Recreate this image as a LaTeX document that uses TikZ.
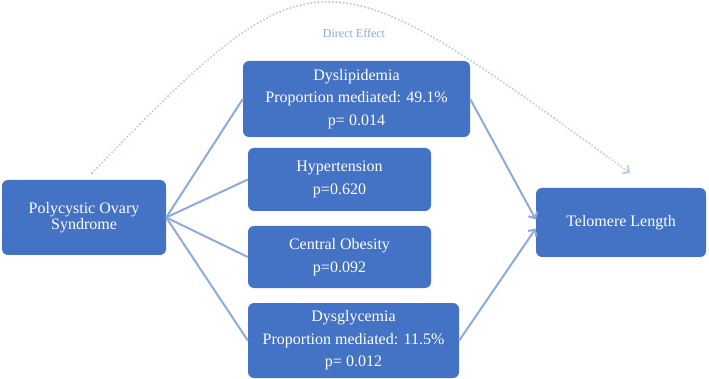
\documentclass[tikz,border=0pt]{standalone}
\usepackage{fontspec}
\setmainfont{Liberation Serif}
\usetikzlibrary{arrows.meta}
\definecolor{boxblue}{HTML}{4472C4}
\definecolor{linkblue}{HTML}{8FAADC}
\definecolor{directtext}{HTML}{8EA5D8}
\definecolor{dotblue}{HTML}{BCCDEB}
\tikzset{
  box/.style={fill=boxblue, rounded corners=6pt, text=white, align=center,
    inner sep=0pt, font=\fontsize{16}{22.5}\selectfont},
  link/.style={draw=linkblue, line width=2pt},
  linkarrow/.style={link, -{Straight Barb[length=5pt,width=10pt,line width=2pt]}},
  directarc/.style={draw=dotblue, line width=2.4pt, line cap=round,
    dash pattern=on 0.01pt off 3.6pt,
    -{Straight Barb[length=5pt,width=10pt,line width=1.8pt]}},
}
\begin{document}
\begin{tikzpicture}[x=1pt, y=-1pt]
\path[use as bounding box] (0,0) rectangle (709,379);

\node[box, minimum width=164pt, minimum height=75pt, font=\fontsize{16}{16}\selectfont] (pcos) at (84,217.5) {Polycystic Ovary\\Syndrome};
\node[box, minimum width=227pt, minimum height=76pt] (dysl) at (356.5,99) {Dyslipidemia\\Proportion mediated: 49.1\%\\p= 0.014};
\node[box, minimum width=183pt, minimum height=63pt] (hyper) at (339.5,179.5) {Hypertension\\p=0.620};
\node[box, minimum width=183pt, minimum height=62pt] (cent) at (339.5,257) {Central Obesity\\p=0.092};
\node[box, minimum width=211pt, minimum height=75pt] (dysg) at (353.5,340.5) {Dysglycemia\\Proportion mediated: 11.5\%\\p= 0.012};
\node[box, minimum width=170pt, minimum height=69pt] (tel) at (621,222.5) {Telomere Length};

\draw[link] (pcos.east) -- (dysl.west);
\draw[link] (pcos.east) -- (hyper.west);
\draw[link] (pcos.east) -- (cent.west);
\draw[link] (pcos.east) -- (dysg.west);
\draw[linkarrow] (dysl.east) -- ([yshift=3pt]tel.west);
\draw[linkarrow] (dysg.east) -- ([yshift=-6pt]tel.west);

\coordinate (arcstart) at (92,173);
\coordinate (arcend) at (630,173);
\draw[directarc] (arcstart) .. controls (318,-60) and (322,-50) .. (arcend);
\node[text=directtext, font=\fontsize{12}{14}\selectfont, inner sep=0pt] (direct) at (354,33) {Direct Effect};
\end{tikzpicture}
\end{document}
